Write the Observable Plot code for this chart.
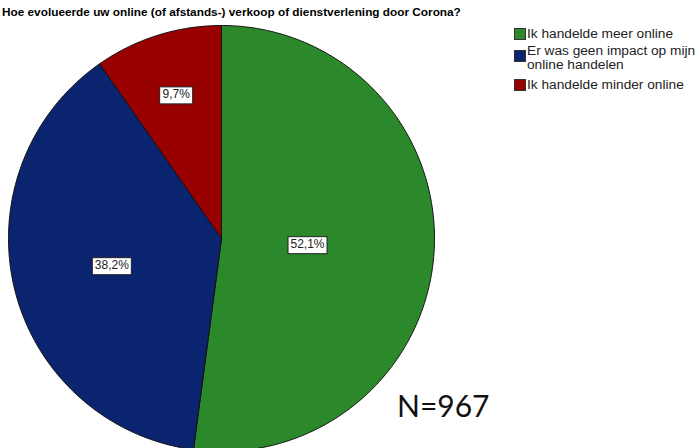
<!DOCTYPE html>
<html>
<head>
<meta charset="utf-8">
<script src="https://cdn.jsdelivr.net/npm/d3@7"></script>
<script src="https://cdn.jsdelivr.net/npm/@observablehq/plot@0.6"></script>
<style>
  html, body { margin: 0; padding: 0; background: #fff; overflow: hidden; }
  #wrap { position: relative; width: 700px; height: 448px; font-family: "Liberation Sans", Arial, sans-serif; }
  #chart { position: absolute; left: 0; top: 0; }
  #title { position: absolute; left: 2px; top: 6px; font-size: 11.8px; line-height: 12px; font-weight: bold; color: #000; white-space: nowrap; }
  .leg { position: absolute; left: 514px; display: flex; align-items: flex-start; font-size: 13.7px; line-height: 14px; color: #222; }
  .leg .sw { width: 10px; height: 10px; border: 1px solid #333; margin-right: 1px; margin-top: 1px; flex: none; }
  .leg .sw.mid { margin-top: 6px; }
  .leg .tx { width: 175px; }
  #nlabel { position: absolute; left: 397px; top: 390px; font-family: Lato, "Open Sans", sans-serif; font-size: 30px; line-height: 30px; color: #111; }
</style>
</head>
<body>
<div id="wrap">
  <div id="chart"></div>
  <div id="title"></div>
  <div id="legend"></div>
  <div id="nlabel"></div>
</div>
<script>
// ---- data ----
const titleText = "Hoe evolueerde uw online (of afstands-) verkoop of dienstverlening door Corona?";
const categories = ["Ik handelde meer online", "Er was geen impact op mijn online handelen", "Ik handelde minder online"];
const percentages = [52.1, 38.2, 9.7];
const valueLabels = ["52,1%", "38,2%", "9,7%"];
const colors = ["#2b882b", "#0b2470", "#990000"];
const sampleSize = 967;

// ---- layout ----
const W = 700, H = 448;
const cx = 221, cy = 238, R = 213;

// pie angles (clockwise from 12 o'clock)
const arcs = d3.pie().sort(null).value(d => d)(percentages);

const outline = [];
arcs.forEach((a, i) => {
  const cat = categories[i];
  outline.push({x: 0, y: 0, cat});
  const steps = Math.max(2, Math.ceil((a.endAngle - a.startAngle) / (Math.PI / 360)));
  for (let k = 0; k <= steps; k++) {
    const t = a.startAngle + (a.endAngle - a.startAngle) * k / steps;
    outline.push({x: Math.sin(t), y: Math.cos(t), cat});
  }
  outline.push({x: 0, y: 0, cat});
});

const labelPts = arcs.map((a, i) => {
  const half = (a.endAngle - a.startAngle) / 2;
  const mid = a.startAngle + half;
  const d = 2 * Math.sin(half) / (3 * half) * (1 + 0.1 * (1 - half / (Math.PI / 2)));
  return {x: d * Math.sin(mid), y: d * Math.cos(mid), label: valueLabels[i]};
});

const plot = Plot.plot({
  width: W,
  height: H,
  margin: 0,
  x: {domain: [-cx / R, (W - cx) / R], axis: null},
  y: {domain: [-(H - cy) / R, cy / R], axis: null},
  color: {domain: categories, range: colors},
  style: {background: "transparent", overflow: "visible"},
  marks: [
    Plot.line(outline, {x: "x", y: "y", fill: "cat", z: "cat", stroke: "#111", strokeWidth: 1, strokeLinejoin: "round", curve: "linear"}),
    Plot.text(labelPts, {x: "x", y: "y", text: "label", fontSize: 12, fill: "#222", fontFamily: "Liberation Sans, Arial, sans-serif"})
  ]
});
document.getElementById("chart").appendChild(plot);

// white boxes behind slice labels
plot.querySelectorAll('text').forEach(t => {
  const b = t.getBBox();
  const r = document.createElementNS("http://www.w3.org/2000/svg", "rect");
  r.setAttribute("x", Math.round(b.x - 3) + 0.5);
  r.setAttribute("y", Math.round(b.y - 1) + 0.5);
  r.setAttribute("width", Math.round(b.width + 5));
  r.setAttribute("height", Math.round(b.height + 3));
  r.setAttribute("fill", "#fff");
  r.setAttribute("stroke", "#222");
  r.setAttribute("stroke-width", 1);
  const tr = t.getAttribute("transform");
  if (tr) r.setAttribute("transform", tr);
  t.parentNode.insertBefore(r, t);
});

document.getElementById("title").textContent = titleText;
document.getElementById("nlabel").textContent = "N=" + sampleSize;

const legendTops = [27, 44, 78];
const legend = document.getElementById("legend");
categories.forEach((c, i) => {
  const item = document.createElement("div");
  item.className = "leg";
  item.style.top = legendTops[i] + "px";
  const sw = document.createElement("div");
  sw.className = "sw" + (i === 1 ? " mid" : "");
  sw.style.background = colors[i];
  const tx = document.createElement("div");
  tx.className = "tx";
  tx.textContent = c;
  item.appendChild(sw);
  item.appendChild(tx);
  legend.appendChild(item);
});
</script>
</body>
</html>
